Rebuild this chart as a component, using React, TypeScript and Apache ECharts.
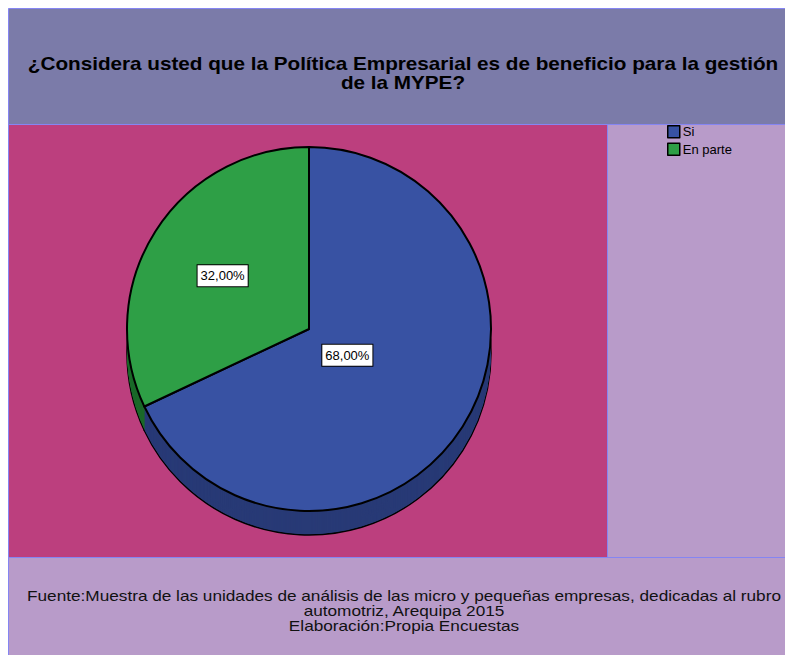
import React, { useEffect, useRef } from 'react';
import * as echarts from 'echarts';

// ---- data ----
const categories = ['Si', 'En parte'];
const percentages = [68, 32];
const titleLines = [
  '¿Considera usted que la Política Empresarial es de beneficio para la gestión',
  'de la MYPE?',
];
const footerLines = [
  'Fuente:Muestra de las unidades de análisis de las micro y pequeñas empresas, dedicadas al rubro',
  'automotriz, Arequipa 2015',
  'Elaboración:Propia Encuestas',
];

// ---- styles ----
const topColors = ['#3852a3', '#2e9f46'];
const sideColors = ['#283a76', '#1c6a2a'];
const FONT = '"Liberation Sans", Arial, sans-serif';

export default function App() {
  const ref = useRef<HTMLDivElement>(null);

  useEffect(() => {
    if (!ref.current) return;
    const chart = echarts.init(ref.current, null, { renderer: 'svg' });
    const cx = 309;
    const cy = 329;
    const r = 182;
    const depth = 24;

    const topSeries: any = {
      type: 'pie',
      z: 5,
      center: [cx, cy],
      radius: r,
      startAngle: 90,
      clockwise: true,
      silent: true,
      emphasis: { disabled: true },
      itemStyle: { borderColor: '#000', borderWidth: 2 },
      label: {
        show: true,
        position: 'inside',
        formatter: (p: any) => p.percent.toFixed(2).replace('.', ',') + '%',
        backgroundColor: '#fff',
        borderColor: '#000',
        borderWidth: 1,
        padding: [3, 3, 3, 3],
        color: '#000',
        fontSize: 13,
        lineHeight: 15,
        fontFamily: FONT,
      },
      labelLine: { show: false },
      labelLayout: (params: any) =>
        params.dataIndex === 0 ? { dx: -41, dy: -24 } : { dx: -7, dy: -3 },
      data: categories.map((n, i) => ({
        name: n,
        value: percentages[i],
        itemStyle: { color: topColors[i] },
      })),
    };

    const sideSeries: any[] = [];
    for (let d = depth; d >= 1; d -= 1) {
      sideSeries.push({
        type: 'pie',
        z: 2,
        center: [cx, cy + d],
        radius: r,
        startAngle: 90,
        clockwise: true,
        silent: true,
        legendHoverLink: false,
        emphasis: { disabled: true },
        itemStyle:
          d === depth
            ? { borderColor: '#000', borderWidth: 1.5 }
            : { borderWidth: 0 },
        label: { show: false },
        labelLine: { show: false },
        data: categories.map((n, i) => ({
          name: n,
          value: percentages[i],
          itemStyle: { color: sideColors[i] },
        })),
      });
    }

    const stroke = '#8585f2';
    chart.setOption({
      animation: false,
      backgroundColor: '#ffffff',
      legend: {
        orient: 'vertical',
        left: 667,
        top: 125,
        padding: 0,
        icon: 'rect',
        itemWidth: 12,
        itemHeight: 12,
        itemGap: 4,
        selectedMode: false,
        textStyle: { fontSize: 13, color: '#000', fontFamily: FONT, padding: [0, 0, 0, -2] },
        itemStyle: { borderColor: '#000', borderWidth: 1.5 },
        data: categories.map((n, i) => ({ name: n, itemStyle: { color: topColors[i] } })),
      },
      graphic: [
        {
          type: 'rect',
          z: 0,
          silent: true,
          shape: { x: 8.5, y: 8.5, width: 800, height: 116 },
          style: { fill: '#7b7ba9', stroke, lineWidth: 1 },
        },
        {
          type: 'rect',
          z: 0,
          silent: true,
          shape: { x: 8.5, y: 124.5, width: 599, height: 433 },
          style: { fill: '#bc3f7e', stroke, lineWidth: 1 },
        },
        {
          type: 'rect',
          z: 0,
          silent: true,
          shape: { x: 607.5, y: 124.5, width: 200, height: 433 },
          style: { fill: '#b89bc9', stroke, lineWidth: 1 },
        },
        {
          type: 'rect',
          z: 0,
          silent: true,
          shape: { x: 8.5, y: 557.5, width: 800, height: 120 },
          style: { fill: '#b89bc9', stroke, lineWidth: 1 },
        },
        {
          type: 'text',
          z: 1,
          silent: true,
          x: 403,
          y: 73,
          scaleX: 1.15,
          style: {
            text: titleLines.join('\n'),
            font: 'bold 18px ' + FONT,
            fill: '#000',
            align: 'center',
            verticalAlign: 'middle',
            textAlign: 'center',
            textVerticalAlign: 'middle',
            lineHeight: 19,
          },
        },
        {
          type: 'text',
          z: 1,
          silent: true,
          x: 404,
          y: 610,
          scaleX: 1.147,
          style: {
            text: footerLines.join('\n'),
            font: '15px ' + FONT,
            fill: '#111',
            align: 'center',
            verticalAlign: 'middle',
            textAlign: 'center',
            textVerticalAlign: 'middle',
            lineHeight: 15,
          },
        },
      ],
      series: [topSeries, ...sideSeries],
    });
    return () => chart.dispose();
  }, []);

  return (
    <div
      ref={ref}
      style={{ position: 'absolute', left: 0, top: 0, width: 785, height: 655 }}
    />
  );
}
